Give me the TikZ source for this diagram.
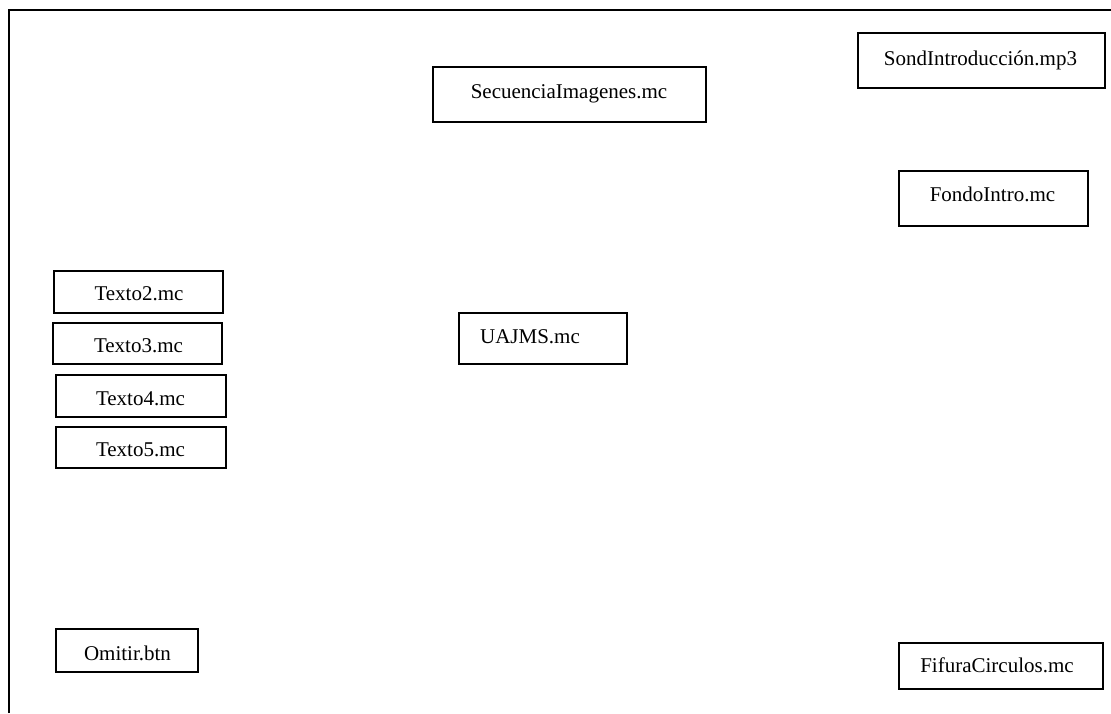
\documentclass[tikz,border=0pt]{standalone}
\usepackage{fontspec}
\setmainfont{Liberation Serif}
\begin{document}
\begin{tikzpicture}[x=1pt,y=-1pt,
  box/.style={draw=black,line width=1.6pt,inner sep=0pt,rectangle},
  lbl/.style={anchor=base,inner sep=0pt,font=\fontsize{21}{25}\selectfont}]
\useasboundingbox (0,0) rectangle (1111,713);
% page frame (left and top edges)
\coordinate (fb) at (9,713);
\coordinate (fc) at (9,10);
\coordinate (fr) at (1111,10);
\draw[line width=1.6pt] (fb) -- (fc) -- (fr);

% boxes: centre, width, height
\node[box,minimum width=273pt,minimum height=55pt] (sec) at (569.5,94.5) {};
\node[lbl] (secL) at (569,98) {SecuenciaImagenes.mc};

\node[box,minimum width=247pt,minimum height=55pt] (son) at (981.5,60.5) {};
\node[lbl] (sonL) at (980.5,65) {SondIntroducción.mp3};

\node[box,minimum width=189pt,minimum height=55pt] (fon) at (993.5,198.5) {};
\node[lbl] (fonL) at (992.5,201.5) {FondoIntro.mc};

\node[box,minimum width=169pt,minimum height=42pt] (t2) at (138.5,292) {};
\node[lbl] (t2L) at (139,300.5) {Texto2.mc};

\node[box,minimum width=169pt,minimum height=41pt] (t3) at (137.5,343.5) {};
\node[lbl] (t3L) at (138.5,352.5) {Texto3.mc};

\node[box,minimum width=170pt,minimum height=42pt] (t4) at (141,396) {};
\node[lbl] (t4L) at (140.5,405) {Texto4.mc};

\node[box,minimum width=170pt,minimum height=41pt] (t5) at (141,447.5) {};
\node[lbl] (t5L) at (140.5,456) {Texto5.mc};

\node[box,minimum width=168pt,minimum height=51pt] (uaj) at (543,338.5) {};
\node[lbl] (uajL) at (530,343) {UAJMS.mc};

\node[box,minimum width=142pt,minimum height=43pt] (omi) at (127,650.5) {};
\node[lbl] (omiL) at (127.5,660) {Omitir.btn};

\node[box,minimum width=204pt,minimum height=46pt] (fif) at (1001,666) {};
\node[lbl] (fifL) at (997,672) {FifuraCirculos.mc};
\end{tikzpicture}
\end{document}
